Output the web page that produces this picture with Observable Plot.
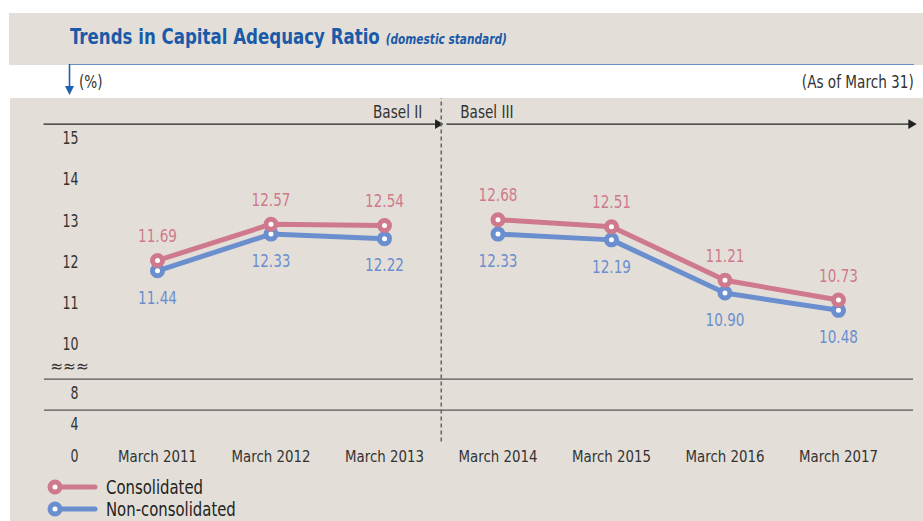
<!DOCTYPE html>
<html>
<head>
<meta charset="utf-8">
<script src="https://cdn.jsdelivr.net/npm/d3@7"></script>
<script src="https://cdn.jsdelivr.net/npm/@observablehq/plot@0.6"></script>
<style>
  html, body { margin: 0; padding: 0; background: #fff; }
  body { width: 923px; height: 521px; position: relative; overflow: hidden;
         font-family: "Liberation Sans Narrow", "DejaVu Sans Condensed", "Roboto", sans-serif; color: #333; }
  #titlebar { position: absolute; left: 9px; top: 13px; width: 914px; height: 52px; background: #e3dfd8; }
  #title { position: absolute; left: 61px; top: 11px; font-size: 22px; font-weight: bold; color: #1b5aa8; white-space: nowrap;
           transform: scaleX(0.84); transform-origin: 0 50%; }
  #title span { font-size: 14px; font-style: italic; margin-left: 7px; }
  #unitline { position: absolute; left: 69px; top: 64px; width: 845px; height: 0; border-top: 1.6px solid #6a93c8; }
  #unitarrow { position: absolute; left: 64px; top: 64px; }
  #unit { position: absolute; left: 79px; top: 72px; font-size: 17px; transform: scaleX(0.89); transform-origin: 0 50%; }
  #asof { position: absolute; right: 9px; top: 72px; font-size: 17px; transform: scaleX(0.89); transform-origin: 100% 50%; }
  #chart { position: absolute; left: 10px; top: 98px; width: 913px; height: 423px; background: #e3dfd8; }
  #legend { position: absolute; left: 0; top: 378px; }
  .lg { position: absolute; left: 34px; display: flex; align-items: center; font-size: 19px; color: #222; white-space: nowrap; }
  .lg span { display: inline-block; transform: scaleX(0.87); transform-origin: 0 50%; }
</style>
</head>
<body>
<div id="titlebar"><div id="title">Trends in Capital Adequacy Ratio<span>(domestic standard)</span></div></div>
<div id="unitline"></div>
<svg id="unitarrow" width="12" height="34"><line x1="5.5" y1="0" x2="5.5" y2="24" stroke="#1f5fb0" stroke-width="1.6"/><path d="M1,22 L10,22 L5.5,31 Z" fill="#1f5fb0"/></svg>
<div id="unit">(%)</div>
<div id="asof">(As of March 31)</div>
<div id="chart"><div id="legend"></div></div>
<script>
const categories = ["March 2011", "March 2012", "March 2013", "March 2014", "March 2015", "March 2016", "March 2017"];
const consolidated = [11.69, 12.57, 12.54, 12.68, 12.51, 11.21, 10.73];
const nonConsolidated = [11.44, 12.33, 12.22, 12.33, 12.19, 10.90, 10.48];
const seriesNames = ["Consolidated", "Non-consolidated"];
const yTickLabels = [15, 14, 13, 12, 11, 10, 8, 4, 0];
const baselEras = [
  {label: "Basel II", from: -1, to: 2.47},
  {label: "Basel III", from: 2.55, to: 6.64}
];
const eraOf = i => (i < 3 ? "II" : "III");

const pink = "#cf7a8c", blue = "#6b8ecf", ink = "#333";
const colorOf = {"Consolidated": pink, "Non-consolidated": blue};

const blueRows = categories.map((c, i) => ({series: "Non-consolidated", i, v: nonConsolidated[i], era: eraOf(i)}));
const pinkRows = categories.map((c, i) => ({series: "Consolidated", i, v: consolidated[i], era: eraOf(i)}));

const font = `"Liberation Sans Narrow", "DejaVu Sans Condensed", Roboto, sans-serif`;

const chart = Plot.plot({
  width: 913,
  height: 378,
  marginLeft: 34,
  marginRight: 10,
  marginTop: 0,
  marginBottom: 0,
  style: {background: "transparent", fontFamily: font, overflow: "visible"},
  x: {type: "linear", domain: [0, 6], range: [147, 828], axis: null},
  y: {type: "linear", domain: [0, 4, 8, 10, 15], range: [343.6, 311.6, 280.6, 231.6, 25.6], axis: null},
  marks: [
    Plot.ruleY([8, 4], {stroke: "#555", strokeWidth: 1.3}),
    Plot.ruleY(baselEras, {y: () => 15, x1: "from", x2: "to", stroke: "#222", strokeWidth: 1.3}),
    Plot.dot(baselEras, {x: "to", y: () => 15, symbol: "triangle", rotate: 90, r: 3.6, fill: "#222", stroke: null}),
    Plot.ruleX([2.5], {y1: 0, y2: 15.62, stroke: "#6a6a6a", strokeWidth: 1.6, strokeDasharray: "4,3"}),
    Plot.text(baselEras.slice(0, 1), {x: () => 2.5, y: () => 15, text: "label", textAnchor: "end", dx: -19, dy: -12, fontSize: 17, fill: ink, className: "sx89"}),
    Plot.text(baselEras.slice(1), {x: () => 2.5, y: () => 15, text: "label", textAnchor: "start", dx: 19, dy: -12, fontSize: 17, fill: ink, className: "sx89"}),
    Plot.axisY({ticks: yTickLabels, tickSize: 0, tickPadding: 0, dx: 34, dy: 14.4, fontSize: 17.5, fill: ink, label: null, tickFormat: d => String(d), className: "sx80"}),
    Plot.text(["≈≈≈"], {frameAnchor: "left", textAnchor: "middle", y: () => 9, dx: 25, dy: 12, fontSize: 17, fill: "#333", letterSpacing: "-4px"}),
    Plot.text(categories, {x: (d, i) => i, y: () => 0, dy: 14.4, fontSize: 16.5, fill: ink, className: "sx90"}),
    Plot.line(blueRows, {x: "i", y: "v", z: "era", stroke: blue, strokeWidth: 5}),
    Plot.dot(blueRows, {x: "i", y: "v", r: 5, fill: "white", stroke: blue, strokeWidth: 5}),
    Plot.line(pinkRows, {x: "i", y: "v", z: "era", stroke: pink, strokeWidth: 5}),
    Plot.dot(pinkRows, {x: "i", y: "v", r: 5, fill: "white", stroke: pink, strokeWidth: 5}),
    Plot.text(pinkRows, {x: "i", y: "v", text: d => d.v.toFixed(2), dy: -24, fontSize: 18, fill: pink, className: "sx84"}),
    Plot.text(blueRows, {x: "i", y: "v", text: d => d.v.toFixed(2), dy: 27, fontSize: 18, fill: blue, className: "sx84"})
  ]
});
document.getElementById("chart").prepend(chart);

// Horizontally condense SVG text (reference uses a condensed typeface); scale about each text's anchor
[["sx80", 0.8], ["sx84", 0.84], ["sx89", 0.89], ["sx90", 0.9]].forEach(([cls, s]) => {
  chart.querySelectorAll(`g.${cls} text`).forEach(el => {
    const t = el.getAttribute("transform") || "";
    el.setAttribute("transform", `${t} scale(${s},1)`.trim());
  });
});

const legend = document.getElementById("legend");
seriesNames.forEach((name, k) => {
  const row = document.createElement("div");
  row.className = "lg";
  row.style.top = (k === 0 ? 0 : 22) + "px";
  const c = colorOf[name];
  row.innerHTML = `<svg width="62" height="20"><line x1="11" y1="10" x2="51" y2="10" stroke="${c}" stroke-width="5" stroke-linecap="round"/><circle cx="11" cy="10" r="5" fill="white" stroke="${c}" stroke-width="5"/></svg><span>${name}</span>`;
  legend.appendChild(row);
});
</script>
</body>
</html>
